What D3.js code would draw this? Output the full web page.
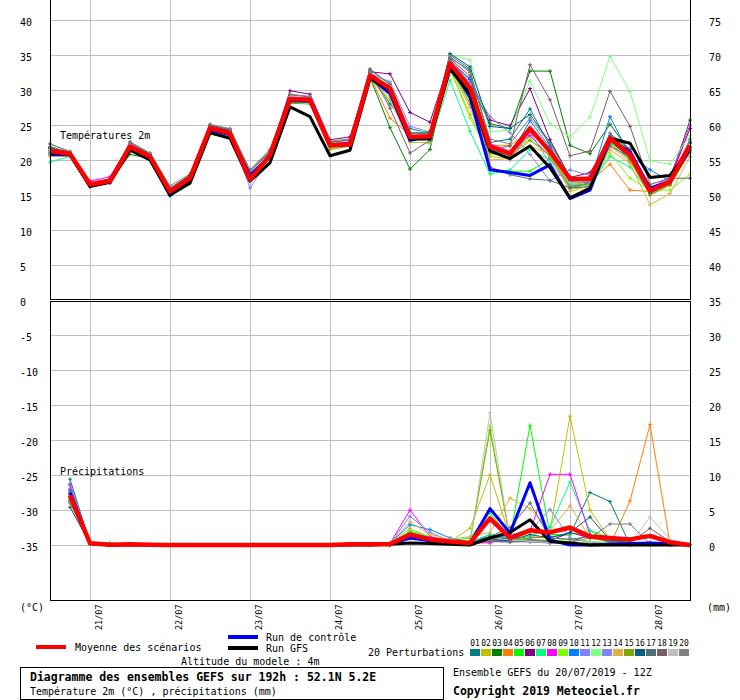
<!DOCTYPE html>
<html>
<head>
<meta charset="utf-8">
<script src="https://cdn.jsdelivr.net/npm/d3@7"></script>
<style>
  body { margin: 0; background: #fff; }
  text { font-family: "DejaVu Sans Mono", monospace; fill: #000; }
</style>
</head>
<body>
<div id="chartContainer"></div>
<script>
// time steps, hours after 20/07/2019 12Z
var hours = [0,6,12,18,24,30,36,42,48,54,60,66,72,78,84,90,96,102,108,114,120,126,132,138,144,150,156,162,168,174,180,186,192];
var dayTicks = [12,36,60,84,108,132,156,180];
var dayLabels = ["21/07","22/07","23/07","24/07","25/07","26/07","27/07","28/07"];
var tempTicks = [40,35,30,25,20,15,10,5,0,-5,-10,-15,-20,-25,-30,-35];

var pertNames = ["01","02","03","04","05","06","07","08","09","10","11","12","13","14","15","16","17","18","19","20"];
var pertColors = ["#008080","#c0c000","#008000","#ff8000","#00ff00","#800080","#00ff80","#ff00ff","#80ff00","#0080ff",
                  "#8080ff","#80ff80","#8484f8","#e0b040","#80a800","#006080","#507078","#786068","#c0c0c0","#808080"];

// temperature 2m (°C)
var tMean    = [21.3,20.9,16.5,17.0,21.9,20.5,15.5,17.4,24.6,23.8,17.2, 20.7,28.7,28.6,22.1,22.2,32.1,30.2,23.3,23.4,33.8,30.3, 21.9,20.9,24.5,21.2,17.3,17.3,23.1,20.8,15.6,16.9,22.1];
var tControl = [20.8,20.7,16.3,16.9,21.7,20.3,14.9,17.2,24.3,23.6,17.8, 20.6,28.5,28.4,22.0,22.4,31.8,29.5,22.8,23.5,33.5,29.0, 18.6,18.2,17.8,19.3,14.5,15.7,22.9,21.2,16.0,16.9,21.5];
var tGfs     = [21.0,20.8,16.2,16.8,21.4,20.0,15.0,16.7,23.9,23.1,17.0, 19.6,27.6,26.2,20.6,21.4,31.6,30.0,23.0,23.0,33.0,29.5, 21.3,20.2,22.0,18.9,14.6,16.0,23.1,22.4,17.5,17.8,21.6];
var tPert = [
  [21.8,21.0,16.4,16.9,22.1,20.6,15.6,17.5,24.9,24.1,17.4, 20.8,28.9,28.8,22.3,22.4,32.4,28.0,24.5,23.8,34.6,32.8, 22.5,23.0,27.3,22.0,17.0,17.5,23.5,21.5,15.8,17.0,22.5], // 01
  [21.0,20.8,16.6,17.1,21.7,20.4,15.4,17.6,24.4,23.6,17.0, 20.6,28.2,28.3,21.7,22.0,31.6,29.0,22.8,23.0,33.0,26.5, 20.5,20.2,23.5,20.4,16.5,16.8,22.0,19.8,15.0,16.4,21.0], // 02
  [21.5,21.0,16.6,17.0,20.8,20.2,15.8,17.8,24.7,24.0,17.6, 20.9,28.6,28.5,22.2,22.3,31.8,24.6,18.7,21.5,34.0,31.0, 25.2,24.5,32.7,32.7,22.1,20.9,25.1,21.2,15.6,17.2,25.7], // 03
  [20.6,20.7,16.5,17.0,22.0,20.6,15.6,17.3,24.5,23.7,17.1, 20.7,28.5,28.4,22.0,22.2,31.9,26.0,23.5,22.9,33.8,29.5, 22.1,22.1,24.0,21.5,16.8,16.9,19.4,15.7,15.5,16.5,21.8], // 04
  [21.2,20.9,16.4,17.1,21.5,20.3,15.7,17.9,24.8,24.0,17.3, 20.5,28.8,28.7,22.4,22.5,32.0,30.5,23.2,23.0,33.2,28.5, 18.6,18.4,18.4,20.2,16.0,16.5,22.5,20.5,15.2,16.7,23.0], // 05
  [21.6,21.1,16.7,17.3,22.2,20.9,15.9,17.7,24.9,24.2,17.5, 21.0,29.9,29.4,22.9,23.3,32.6,32.3,26.8,25.4,34.3,31.5, 25.7,24.9,30.2,22.9,17.5,18.2,22.8,20.2,15.4,17.2,24.5], // 06
  [19.7,20.5,16.3,17.1,21.3,20.6,15.7,17.6,24.5,23.9,17.0, 20.9,28.4,28.2,21.9,22.0,31.7,30.0,22.6,22.4,31.4,24.1, 18.0,18.6,21.5,20.0,16.6,16.4,20.5,19.0,15.3,16.6,21.5], // 07
  [21.4,21.1,17.0,17.6,22.3,20.8,15.8,17.5,24.7,23.9,17.3, 20.8,29.0,28.9,22.3,22.6,32.9,30.8,22.9,23.7,33.9,30.2, 22.3,21.3,23.5,20.4,16.0,16.8,22.6,21.2,15.9,17.6,25.0], // 08
  [21.1,20.8,16.5,16.9,21.8,20.5,15.5,17.3,24.5,23.7,17.2, 20.6,28.3,28.2,21.8,22.1,31.5,28.5,23.0,23.2,33.0,26.0, 20.8,21.0,23.0,20.5,15.8,16.2,21.0,17.4,15.7,15.7,18.0], // 09
  [21.0,20.9,16.4,16.8,21.9,20.4,15.0,17.2,24.6,23.8,17.1, 20.7,28.7,28.6,22.1,22.2,32.2,30.6,23.6,23.4,33.8,31.6, 21.5,20.6,25.6,21.8,16.9,16.8,26.2,20.6,18.6,17.0,22.6], // 10
  [20.9,20.8,16.6,17.0,21.9,20.6,15.6,17.4,24.6,23.8,16.0, 20.3,28.8,28.7,22.2,22.3,32.3,31.2,24.8,24.0,34.4,31.0, 26.2,23.9,20.8,17.0,18.6,17.8,23.8,20.7,15.9,17.0,21.6], // 11
  [21.2,20.9,16.5,17.0,22.0,20.5,15.5,17.4,24.6,23.8,17.2, 20.8,28.7,28.6,22.1,22.2,32.0,31.0,23.8,24.2,35.0,34.3, 24.0,24.3,31.3,25.2,23.3,26.1,34.8,29.8,19.9,19.4,23.5], // 12
  [20.8,20.7,16.3,16.9,21.6,20.4,15.3,17.3,24.4,23.6,17.0, 20.5,28.5,28.4,21.9,22.1,31.9,29.8,23.4,23.2,33.6,30.0, 21.3,20.0,24.0,19.5,16.3,16.6,23.0,20.5,15.3,16.6,21.4], // 13
  [20.5,20.6,16.4,16.9,21.7,20.3,15.4,17.2,24.3,23.5,17.1, 20.5,28.4,28.3,21.8,22.0,31.6,28.6,22.5,22.5,33.2,27.5, 20.0,20.2,22.0,20.8,15.5,16.3,21.5,19.5,13.6,15.2,20.5], // 14
  [21.3,20.9,16.5,17.0,21.9,20.5,15.5,17.5,24.5,23.8,17.2, 20.7,28.1,28.0,21.5,22.0,31.8,29.6,23.0,23.1,33.4,28.0, 21.0,20.5,22.8,20.7,16.2,16.6,22.4,20.0,15.0,16.4,21.8], // 15
  [21.7,21.0,16.2,16.7,22.0,20.7,15.6,17.6,24.8,24.0,17.4, 20.8,28.3,28.3,22.2,22.4,32.5,30.3,23.8,23.9,35.2,33.3, 24.8,24.5,26.5,22.5,17.6,17.2,23.4,21.0,15.6,17.0,22.4], // 16
  [22.3,21.2,16.5,17.2,22.6,20.9,16.0,17.8,25.1,24.4,18.2, 21.2,28.8,28.9,22.6,22.8,33.0,30.8,23.9,23.7,35.0,33.0, 19.0,17.9,17.3,17.1,16.0,16.2,22.0,20.4,15.2,16.6,21.3], // 17
  [21.9,21.1,16.8,17.3,22.4,20.8,15.9,17.9,25.0,24.3,18.6, 21.5,29.3,29.0,22.5,22.9,32.7,27.4,21.0,22.8,34.5,32.0, 21.5,22.0,33.6,28.6,20.6,21.3,29.8,24.8,16.5,17.4,17.4], // 18
  [21.5,20.9,16.6,17.1,22.1,20.6,15.7,17.5,24.7,23.9,17.5, 20.9,29.0,28.8,22.1,22.4,32.3,30.4,23.6,23.6,33.9,30.7, 22.0,21.3,24.2,21.0,16.8,17.0,23.2,20.9,16.0,17.2,22.2], // 19
  [22.3,21.2,16.2,16.8,22.6,21.0,16.3,18.0,25.0,24.5,18.4, 21.3,29.4,29.1,22.7,23.0,32.8,30.9,23.7,24.1,34.8,32.5, 23.0,22.3,26.0,22.4,17.4,17.6,23.8,21.6,15.8,17.4,22.9]  // 20
];

// precipitation (mm per 6h), nothing at 0h
var pMean    = [null,7.1,0.25,0.05,0.1,0.05,0,0,0,0, 0,0,0,0,0,0.1,0.1,0.1,1.5,0.8, 0.5,0.3,3.8,1.0,2.1,1.8,2.5,1.2,1.0,0.8, 1.3,0.4,0.0];
var pControl = [null,7.5,0.2,0,0.1,0,0,0,0,0, 0,0,0,0,0,0.1,0.1,0.1,1.0,0.6, 0.3,0.2,5.2,1.7,8.9,0.7,0.0,0.0,0.1,0.2, 0.3,0.2,0.0];
var pGfs     = [null,7.0,0.2,0,0,0,0,0,0,0, 0,0,0,0,0,0,0,0.1,0.3,0.2, 0.1,0.0,1.0,1.8,3.6,0.5,0.3,0.0,0.0,0.0, 0.0,0.0,0.0];
var pPert = [
  [null,9.4,0.3,0.1,0.1,0,0,0,0,0, 0,0,0,0,0,0.1,0.1,0.2,1.2,0.8, 0.3,0.2,1.5,0.8,1.0,1.2,1.5,7.5,6.2,0.0, 0.0,0.1,0.0], // 01
  [null,6.8,0.2,0,0.1,0,0,0,0,0, 0,0,0,0,0,0.1,0.1,0.1,2.4,1.0, 0.5,2.4,10.0,1.2,1.5,2.0,18.4,5.0,0.8,0.3, 0.2,0.1,0.0], // 02
  [null,7.2,0.3,0.1,0,0,0,0,0,0, 0,0,0,0,0,0.1,0.1,0.1,1.8,1.0, 0.5,0.3,0.8,0.6,0.5,0.3,0.4,0.3,0.2,0.1, 0.1,0.0,0.0], // 03
  [null,7.6,0.2,0,0,0,0,0,0,0, 0,0,0,0,0,0,0.1,0.1,1.5,0.9, 0.6,0.3,0.5,0.8,1.2,1.0,0.8,0.5,0.0,6.3, 17.2,0.2,0.0], // 04
  [null,6.5,0.4,0.3,0.1,0,0,0,0,0, 0,0,0,0,0,0.1,0.1,0.1,2.0,1.2, 0.6,1.0,4.6,1.0,17.1,1.5,1.5,2.1,1.0,0.4, 0.3,0.1,0.0], // 05
  [null,8.6,0.3,0.1,0,0,0,0,0,0, 0,0,0,0,0,0.1,0.1,0.1,1.4,0.7, 0.4,0.2,0.6,0.5,0.8,0.6,1.8,1.0,0.5,0.3, 0.2,0.1,0.0], // 06
  [null,7.0,0.2,0.1,0,0,0,0,0,0, 0,0,0,0,0,0.1,0.1,0.1,1.6,0.9, 0.4,0.5,1.5,1.0,1.2,2.5,9.0,2.0,0.5,0.2, 0.1,0.1,0.0], // 07
  [null,8.0,0.3,0.1,0,0,0,0,0,0, 0,0,0,0,0,0.1,0.1,0.2,5.0,1.2, 0.6,0.3,0.3,1.2,2.0,10.1,10.1,1.5,0.4,0.2, 0.1,0.1,0.0], // 08
  [null,6.2,0.2,0,0,0,0,0,0,0, 0,0,0,0,0,0.1,0.1,0.1,1.8,0.9, 0.5,0.6,17.0,1.0,0.8,0.5,0.8,0.5,0.3,0.2, 0.1,0.0,0.0], // 09
  [null,7.8,0.3,0.1,0.1,0,0,0,0,0, 0,0,0,0,0,0.1,0.1,0.2,2.9,2.2, 1.0,0.4,1.2,0.8,0.6,0.5,0.4,0.3,0.2,0.1, 0.1,0.0,0.0], // 10
  [null,8.8,0.3,0.1,0,0,0,0,0,0, 0,0,0,0,0,0.1,0.1,0.2,4.1,1.8, 0.6,0.3,0.8,1.5,2.0,5.1,1.0,0.4,0.2,0.1, 0.1,0.0,0.0], // 11
  [null,6.6,0.2,0.1,0,0,0,0,0,0, 0,0,0,0,0,0.1,0.1,0.1,1.3,0.8, 0.4,0.3,1.0,0.7,0.6,1.0,0.8,0.5,0.3,0.2, 0.1,0.1,0.0], // 12
  [null,7.3,0.2,0,0,0,0,0,0,0, 0,0,0,0,0,0.1,0.1,0.1,1.1,0.7, 0.3,0.2,0.6,0.5,0.4,0.3,0.3,0.2,0.1,0.1, 0.1,0.0,0.0], // 13
  [null,7.1,0.2,0.1,0.1,0,0,0,0,0, 0,0,0,0,0,0.1,0.1,0.2,3.3,1.5, 0.8,1.2,1.8,6.7,5.2,2.0,5.6,1.0,0.4,0.2, 0.1,0.1,0.0], // 14
  [null,6.0,0.2,0,0,0,0,0,0,0, 0,0,0,0,0,0.1,0.1,0.1,1.7,0.8, 0.4,0.5,16.4,0.9,0.6,0.5,0.4,0.3,0.2,0.1, 0.1,0.0,0.0], // 15
  [null,5.4,0.2,0.1,0,0,0,0,0,0, 0,0,0,0,0,0.1,0.1,0.1,1.0,0.6, 0.3,0.2,0.8,0.6,1.5,1.0,1.8,4.0,0.7,0.3, 0.2,0.1,0.0], // 16
  [null,6.4,0.2,0.1,0,0,0,0,0,0, 0,0,0,0,0,0.1,0.1,0.1,1.2,0.7, 0.3,0.3,1.2,2.5,6.0,1.0,0.8,1.2,0.5,0.3, 0.2,0.1,0.0], // 17
  [null,7.4,0.3,0.1,0,0,0,0,0,0, 0,0,0,0,0,0.1,0.1,0.1,1.0,0.6, 0.3,0.2,0.5,0.4,0.6,0.5,0.4,1.5,0.3,0.2, 2.4,0.5,0.0], // 18
  [null,6.9,0.2,0.1,0,0,0,0,0,0, 0,0,0,0,0,0.1,0.1,0.1,1.2,0.7, 0.3,0.2,18.9,0.8,0.5,0.4,0.4,0.3,0.2,0.1, 4.0,0.8,0.0], // 19
  [null,6.1,0.2,0.1,0,0,0,0,0,0, 0,0,0,0,0,0.1,0.1,0.1,1.1,0.6, 0.3,0.2,0.7,1.5,0.8,0.5,0.4,1.0,3.0,3.0, 0.2,0.1,0.0]  // 20
];

var svg = d3.select("#chartContainer").append("svg")
    .attr("width", 740).attr("height", 700);

var x = d3.scaleLinear().domain([0, 192]).range([50, 690]);
var yT = d3.scaleLinear().domain([0, 40]).range([300, 20]);   // temperature, also drives left labels
var yP = d3.scaleLinear().domain([0, 35]).range([545, 300]);  // precipitation, lower panel

// grid
var grid = svg.append("g").attr("stroke", "#c0c0c0").attr("stroke-width", 1)
    .attr("shape-rendering", "crispEdges");
grid.selectAll("line.v").data(dayTicks).join("line")
    .attr("x1", d => Math.round(x(d)) + 0.5).attr("x2", d => Math.round(x(d)) + 0.5)
    .attr("y1", 0).attr("y2", 600);
grid.selectAll("line.h").data(tempTicks.filter(d => d != 0)).join("line")
    .attr("x1", 50).attr("x2", 690)
    .attr("y1", d => Math.round(yT(d)) + 0.5).attr("y2", d => Math.round(yT(d)) + 0.5);

// series
var lineT = d3.line().x((d, i) => x(hours[i])).y(d => yT(d));
var lineP = d3.line().defined(d => d != null).x((d, i) => x(hours[i])).y(d => yP(d));
var plus = "M-2,0H2M0,-2V2";

function drawPert(values, line, yScale) {
  var g = svg.append("g");
  values.forEach(function(v, k) {
    g.append("path").attr("d", line(v)).attr("fill", "none")
        .attr("stroke", pertColors[k]).attr("stroke-width", 1);
    g.selectAll(null).data(v.map((d, i) => [hours[i], d]).filter(p => p[1] != null)).join("path")
        .attr("d", plus).attr("stroke", pertColors[k]).attr("stroke-width", 1)
        .attr("transform", p => "translate(" + x(p[0]) + "," + yScale(p[1]) + ")");
  });
}
drawPert(tPert, lineT, yT);
drawPert(pPert, lineP, yP);

[[tControl, pControl, "#0000ff", 3], [tGfs, pGfs, "#000000", 3], [tMean, pMean, "#ff0000", 4.5]].forEach(function(s) {
  svg.append("path").attr("d", lineT(s[0])).attr("fill", "none").attr("stroke", s[2])
      .attr("stroke-width", s[3]).attr("stroke-linejoin", "round");
  svg.append("path").attr("d", lineP(s[1])).attr("fill", "none").attr("stroke", s[2])
      .attr("stroke-width", s[3]).attr("stroke-linejoin", "round");
});

// frame: two panels with a double separating line
var frame = svg.append("g").attr("stroke", "#000").attr("stroke-width", 1).attr("shape-rendering", "crispEdges");
frame.append("line").attr("x1", 50.5).attr("x2", 50.5).attr("y1", 0).attr("y2", 300);
frame.append("line").attr("x1", 690.5).attr("x2", 690.5).attr("y1", 0).attr("y2", 300);
frame.append("line").attr("x1", 50).attr("x2", 691).attr("y1", 299.5).attr("y2", 299.5);
frame.append("line").attr("x1", 50).attr("x2", 691).attr("y1", 301.5).attr("y2", 301.5);
frame.append("line").attr("x1", 50.5).attr("x2", 50.5).attr("y1", 302).attr("y2", 600);
frame.append("line").attr("x1", 690.5).attr("x2", 690.5).attr("y1", 302).attr("y2", 600);
frame.append("line").attr("x1", 50).attr("x2", 691).attr("y1", 600.5).attr("y2", 600.5);

// axis labels
function styleAxis(g) {
  g.select(".domain").remove();
  g.attr("font-family", "DejaVu Sans Mono").attr("font-size", 10);
  g.selectAll("text").attr("x", 0).attr("text-anchor", "start").attr("dy", "0.32em")
      .attr("transform", "translate(0,2.5)");
}
svg.append("g").attr("transform", "translate(20,0)")
    .call(d3.axisLeft(yT).tickValues(tempTicks).tickSize(0).tickFormat(d => String(d)))
    .call(styleAxis);
svg.append("g").attr("transform", "translate(709,0)")
    .call(d3.axisRight(yT).tickValues(tempTicks).tickSize(0).tickFormat(d => String(d + 35)))
    .call(styleAxis);

svg.selectAll("text.day").data(dayTicks).join("text")
    .attr("class", "day")
    .attr("transform", d => "translate(" + (x(d) + 9) + ",630) rotate(-90)")
    .attr("dominant-baseline", "central")
    .attr("font-size", 8.5)
    .text((d, i) => dayLabels[i]);

function label(tx, ty, str, size, bold) {
  return svg.append("text").attr("x", tx).attr("y", ty).attr("dominant-baseline", "central")
      .attr("font-size", size || 10).attr("font-weight", bold ? "bold" : null).text(str);
}
label(20, 607, "(°C)");
label(707, 607, "(mm)");
label(60, 135, "Températures 2m");
label(60, 471, "Précipitations");

// legend
svg.append("line").attr("x1", 36).attr("x2", 66).attr("y1", 647).attr("y2", 647).attr("stroke", "#ff0000").attr("stroke-width", 4);
svg.append("line").attr("x1", 228).attr("x2", 258).attr("y1", 637).attr("y2", 637).attr("stroke", "#0000ff").attr("stroke-width", 4);
svg.append("line").attr("x1", 228).attr("x2", 258).attr("y1", 648).attr("y2", 648).attr("stroke", "#000").attr("stroke-width", 4);
label(75, 647, "Moyenne des scénarios");
label(266, 637, "Run de contrôle");
label(266, 648, "Run GFS");
label(181, 661, "Altitude du modele : 4m");
label(368, 652, "20 Perturbations");

svg.selectAll("rect.sw").data(pertColors).join("rect")
    .attr("class", "sw")
    .attr("x", (d, i) => 470 + i * 11).attr("y", 649).attr("width", 10).attr("height", 7)
    .attr("fill", d => d);
svg.selectAll("text.sw").data(pertNames).join("text")
    .attr("class", "sw")
    .attr("x", (d, i) => 475 + i * 11).attr("y", 643).attr("text-anchor", "middle")
    .attr("dominant-baseline", "central").attr("font-size", 8).text(d => d);

// title box
svg.append("rect").attr("x", 20.5).attr("y", 667.5).attr("width", 423).attr("height", 31.5)
    .attr("fill", "none").attr("stroke", "#000").attr("shape-rendering", "crispEdges");
label(30, 677, "Diagramme des ensembles GEFS sur 192h : 52.1N 5.2E", 11.5, true);
label(30, 691, "Température 2m (°C) , précipitations (mm)");
label(453, 672, "Ensemble GEFS du 20/07/2019 - 12Z");
label(453, 691, "Copyright 2019 Meteociel.fr", 11.5, true);
</script>
</body>
</html>
